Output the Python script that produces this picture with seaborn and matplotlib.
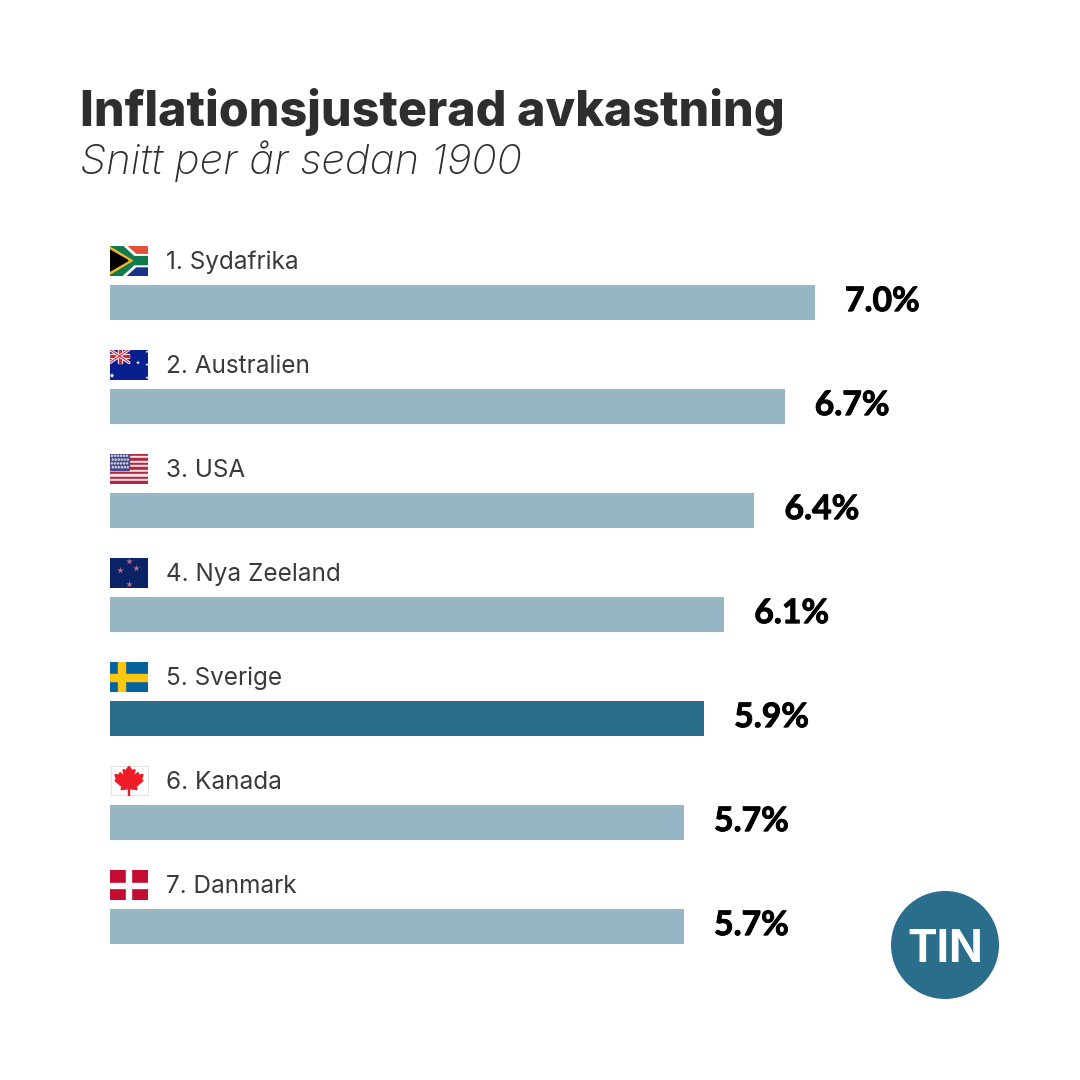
import matplotlib
matplotlib.use('Agg')
import matplotlib.pyplot as plt
import matplotlib.patheffects as pe
from matplotlib.patches import Polygon, Rectangle, Circle
import pandas as pd
import seaborn as sns

# Data
countries = ['Sydafrika', 'Australien', 'USA', 'Nya Zeeland', 'Sverige', 'Kanada', 'Danmark']
returns = [7.0, 6.7, 6.4, 6.1, 5.9, 5.7, 5.7]
highlight = 'Sverige'
flag_codes = ['za', 'au', 'us', 'nz', 'se', 'ca', 'dk']

LIGHT = '#96b6c6'
DARK = '#2a6e8c'
INK = '#2e2e2e'
PX = 1080

sns.set_theme(style='white')
plt.rcParams['font.family'] = ['Inter', 'DejaVu Sans']


def flag_za(a):
    a.add_patch(Rectangle((0, 0), 38, 15, color='#e4513a'))
    a.add_patch(Rectangle((0, 15), 38, 15, color='#16328a'))
    a.add_patch(Polygon([(0, -1), (15, -1), (26, 9), (39, 9), (39, 21), (26, 21), (15, 31), (0, 31)], color='white'))
    a.add_patch(Polygon([(0, 0), (12, 0), (24, 11), (38, 11), (38, 19), (24, 19), (12, 30), (0, 30)], color='#0f7a4f'))
    a.add_patch(Polygon([(0, 1.5), (22.5, 15), (0, 28.5)], color='#f0b428'))
    a.add_patch(Polygon([(0, 4.5), (18, 15), (0, 25.5)], color='black'))


def flag_au(a):
    a.add_patch(Rectangle((0, 0), 38, 30, color='#0a1f8f'))
    a.plot([0, 19], [0, 13], color='white', lw=2.2)
    a.plot([0, 19], [13, 0], color='white', lw=2.2)
    a.plot([0, 19], [0, 13], color='#d8243c', lw=0.8)
    a.plot([0, 19], [13, 0], color='#d8243c', lw=0.8)
    a.add_patch(Rectangle((0, 4.5), 19, 4, color='white'))
    a.add_patch(Rectangle((7.5, 0), 4, 13, color='white'))
    a.add_patch(Rectangle((0, 5.5), 19, 2, color='#d8243c'))
    a.add_patch(Rectangle((8.5, 0), 2, 13, color='#d8243c'))
    a.scatter([28, 2, 37, 37, 37], [13, 26, 2, 15, 28], s=[9, 16, 6, 6, 6], color='white', marker='*', lw=0)


def flag_us(a):
    for i in range(13):
        a.add_patch(Rectangle((0, i * 30 / 13), 38, 30 / 13, color='#b5273f' if i % 2 == 0 else '#f4e4e6'))
    a.add_patch(Rectangle((0, 0), 19, 16, color='#4a4a86'))
    for r in range(4):
        for c in range(6):
            a.add_patch(Circle((2 + c * 3 + (r % 2) * 0.8, 2.2 + r * 3.8), 0.55, color='#c9c9e0'))


def flag_nz(a):
    a.add_patch(Rectangle((0, 0), 38, 30, color='#0b2265'))
    a.scatter([19, 10, 26, 19], [3.5, 12, 10, 26], s=26, marker='*', color='#b46a8c', lw=0)


def flag_se(a):
    a.add_patch(Rectangle((0, 0), 38, 30, color='#04639f'))
    a.add_patch(Rectangle((0, 12), 38, 7.5, color='#fdc60f'))
    a.add_patch(Rectangle((7.5, 0), 7.5, 30, color='#fdc60f'))


def flag_ca(a):
    a.add_patch(Rectangle((0.5, 0.5), 37, 29, facecolor='white', edgecolor='#e4e4e4', lw=0.8, clip_on=False))
    leaf = [(19, 0.5), (22, 5), (25, 4), (23.5, 11), (28, 7), (29, 9.5), (33, 9), (31.5, 14), (33, 15),
            (26, 21), (27, 24), (19.5, 23), (19.5, 30), (18.5, 30), (18.5, 23), (11, 24), (12, 21),
            (5, 15), (6.5, 14), (5, 9), (9, 9.5), (10, 7), (14.5, 11), (13, 4), (16, 5)]
    a.add_patch(Polygon(leaf, color='#ee1c25'))


def flag_dk(a):
    a.add_patch(Rectangle((0, 0), 38, 30, color='#c30c30'))
    a.add_patch(Rectangle((0, 13), 38, 5, color='white'))
    a.add_patch(Rectangle((16, 0), 5, 30, color='white'))


flag_painters = {'za': flag_za, 'au': flag_au, 'us': flag_us, 'nz': flag_nz,
                 'se': flag_se, 'ca': flag_ca, 'dk': flag_dk}

df = pd.DataFrame({'land': countries, 'avkastning': returns})
palette = {c: (DARK if c == highlight else LIGHT) for c in countries}

fig = plt.figure(figsize=(10.8, 10.8), dpi=100, facecolor='white')

# bars: 100.7 px per percentage point, 104 px between rows
ax = fig.add_axes([110 / PX, 0, 970 / PX, 1])
sns.barplot(data=df, x='avkastning', y='land', hue='land', palette=palette, order=countries,
            width=35 / 104, saturation=1, dodge=False, legend=False, linewidth=0, ax=ax)
ax.set_xlim(0, 970 / 100.7)
ax.set_ylim((PX - 302.5) / 104, -302.5 / 104)
ax.axis('off')

for i, (name, val) in enumerate(zip(countries, returns)):
    ax.annotate(f'{val:.1f}%', (val, i), xytext=(30 * 0.72, 1), textcoords='offset points',
                ha='left', va='center', fontsize=24.3, fontweight='bold', color='black', family='Lato',
                path_effects=[pe.withStroke(linewidth=0.7, foreground='black')])
    ax.annotate(f'{i + 1}. {name}', (0, i), xytext=(56 * 0.72, 40 * 0.72), textcoords='offset points',
                ha='left', va='center', fontsize=17.5, color='#3a3a3a')

    # flag sits above the bar, 38x30 px
    top = 245.6 + i * 104
    fa = fig.add_axes([110 / PX, 1 - (top + 30) / PX, 38 / PX, 30 / PX])
    fa.set_xlim(0, 38)
    fa.set_ylim(30, 0)
    fa.axis('off')
    flag_painters[flag_codes[i]](fa)

fig.text(80 / PX, 1 - 126 / PX, 'Inflationsjusterad avkastning', fontsize=34.8, fontweight=800,
         color=INK, ha='left', va='baseline')
fig.text(80 / PX, 1 - 174 / PX, 'Snitt per år sedan 1900', fontsize=30.2, style='italic', fontweight='light',
         color=INK, ha='left', va='baseline')

# TIN logo
logo = fig.add_axes([0, 0, 1, 1], facecolor='none')
logo.set_xlim(0, PX)
logo.set_ylim(PX, 0)
logo.axis('off')
logo.add_patch(Circle((945, 945), 54, color=DARK, lw=0))
logo.text(945, 945, 'TIN', color='white', fontsize=32, fontweight='bold', ha='center', va='center_baseline')

fig.savefig('out.png', dpi=100, facecolor='white')
